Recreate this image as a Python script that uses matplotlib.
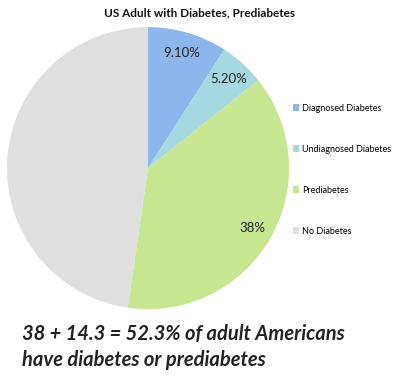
import numpy as np
import matplotlib.pyplot as plt
from matplotlib.patches import Patch

categories = ["Diagnosed Diabetes", "Undiagnosed Diabetes", "Prediabetes", "No Diabetes"]
values = [9.1, 5.2, 38.0, 47.7]
pct_labels = ["9.10%", "5.20%", "38%", ""]
colors = ["#8db6ec", "#a6d8e2", "#c6e690", "#dfdfdf"]

plt.rcParams['font.family'] = ['Lato', 'DejaVu Sans']

fig = plt.figure(figsize=(4.0, 3.77), dpi=100)
ax = fig.add_axes([0.0175, 0.180, 0.705, 0.748])
wedges, _ = ax.pie(values, colors=colors, startangle=90, counterclock=False,
                   radius=1.0)
ax.set_xlim(-1, 1)
ax.set_ylim(-1, 1)
ax.set_aspect('equal')

for w, lab in zip(wedges, pct_labels):
    if not lab:
        continue
    mid = np.deg2rad((w.theta1 + w.theta2) / 2)
    ax.text(0.85 * np.cos(mid), 0.85 * np.sin(mid), lab, ha='center', va='center',
            fontsize=9.5, color='#222222')

fig.text(0.5, 0.966, "US Adult with Diabetes, Prediabetes", ha='center', va='center',
         fontsize=8.5, fontweight='bold', color='#111111')

handles = [Patch(facecolor=c, edgecolor='none') for c in colors]
fig.legend(handles, categories, loc='upper left', bbox_to_anchor=(0.72, 0.737),
           frameon=False, fontsize=6.5, handlelength=0.7, handleheight=0.7,
           handletextpad=0.4, labelspacing=3.55, borderpad=0)

fig.text(0.055, 0.115, "38 + 14.3 = 52.3% of adult Americans", ha='left', va='center',
         fontsize=14.5, fontweight='bold', fontstyle='italic', color='#222222')
fig.text(0.055, 0.045, "have diabetes or prediabetes", ha='left', va='center',
         fontsize=14.5, fontweight='bold', fontstyle='italic', color='#222222')

fig.savefig("out.png", dpi=100)
